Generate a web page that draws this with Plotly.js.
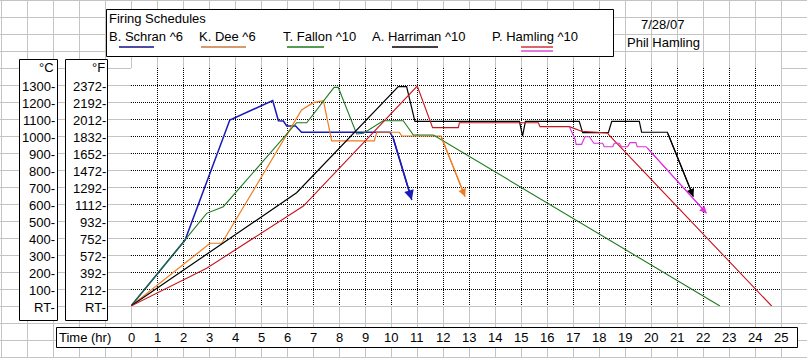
<!DOCTYPE html>
<html><head><meta charset="utf-8">
<script src="https://cdn.plot.ly/plotly-3.0.1.min.js"></script>
<style>html,body{margin:0;padding:0;background:#fff}#chart{width:807px;height:358px}</style>
</head><body><div id="chart"></div>
<script>
// ---------------- data (time in hours, temperature in °C) ----------------
const hourLabels = ['0','1','2','3','4','5','6','7','8','9','10','11','12','13','14','15','16','17','18','19','20','21','22','23','24','25'];
const hourTicks = [0,1,2,3,4,5,6,7,8,9,10,11,12,13,14,15,16,17,18,19,20,21,22,23,24,25];
const celsiusTicks = [0,100,200,300,400,500,600,700,800,900,1000,1100,1200,1300];
const celsiusLabels = ['RT-','100-','200-','300-','400-','500-','600-','700-','800-','900-','1000-','1100-','1200-','1300-'];
const fahrenheitLabels = ['RT-','212-','392-','572-','752-','932-','1112-','1292-','1472-','1652-','1832-','2012-','2192-','2372-'];

const schranT = [0, 2.08, 3.8, 5.45, 5.67, 5.86, 5.99, 6.33, 6.56, 9.96, 10.08, 10.8];
const schranC = [0, 388, 1094, 1208, 1090, 1088, 1059, 1059, 1022, 1022, 990, 624];

const deeT = [0, 3.04, 3.49, 6.56, 7.01, 7.4, 7.72, 9.36, 9.45, 10.32, 10.41, 11.92, 12.85];
const deeC = [0, 369, 369, 1153, 1196, 1208, 971, 971, 1022, 1022, 1000, 1000, 643];

const fallonT = [0, 2.08, 2.91, 3.55, 6.37, 6.76, 7.81, 7.97, 8.68, 8.94, 9.7, 10.47, 10.86, 11.63, 22.65];
const fallonC = [0, 388, 545, 584, 1078, 1078, 1286, 1286, 1012, 1016, 1090, 1090, 1006, 1006, 0];

const harrimanT = [0, 6.37, 10.28, 10.6, 10.92, 14.94, 15.06, 15.17, 17.24, 17.37, 18.36, 18.49, 19.55, 19.64, 20.63, 21.63];
const harrimanC = [0, 666, 1290, 1290, 1086, 1086, 1000, 1086, 1086, 1020, 1020, 1086, 1086, 1022, 1022, 643];

const hamlingT = [0, 2.91, 6.63, 11.01, 11.6, 12.59, 12.63, 15.67, 15.73, 16.86, 17.33, 18.33, 18.38, 24.64];
const hamlingC = [0, 222, 588, 1294, 1049, 1049, 1078, 1078, 1055, 1055, 1028, 1018, 1006, 0];

const hamling2T = [16.86, 17.08, 17.12, 17.33, 17.46, 17.63, 17.8, 18.14, 18.2, 18.53, 18.59, 18.78, 18.87, 19.1, 19.19, 19.42, 19.47, 19.81, 22.14];
const hamling2C = [1055, 981, 951, 951, 996, 996, 957, 957, 937, 937, 957, 957, 937, 937, 961, 961, 937, 937, 545];

const seriesNames = ['B. Schran ^6','K. Dee ^6','T. Fallon ^10','A. Harriman ^10','P. Hamling ^10'];

// ---------------- layout helpers ----------------
const W = 807, H = 358;
const X = px => px / W;
const Y = py => 1 - py / H;
const FONT = 'Liberation Sans, Arial, sans-serif';

const series = [
  {x: schranT, y: schranC, color: '#1a1ab8', width: 1.5, arrow: true},
  {x: deeT, y: deeC, color: '#f07c1e', width: 1.2, arrow: true},
  {x: fallonT, y: fallonC, color: '#1d7a1d', width: 1.1, arrow: false},
  {x: harrimanT, y: harrimanC, color: '#000000', width: 1.2, arrow: true},
  {x: hamlingT, y: hamlingC, color: '#c8141e', width: 1.1, arrow: false},
  {x: hamling2T, y: hamling2C, color: '#e030e0', width: 1.1, arrow: true}
];

const traces = series.map(s => ({
  type: 'scatter', mode: 'lines', x: s.x, y: s.y,
  line: {color: s.color, width: s.width}, hoverinfo: 'skip', showlegend: false,
  xaxis: 'x', yaxis: 'y'
}));

const shapes = [];
// spreadsheet cell grid
for (let px = 1; px <= W; px += 26) {
  shapes.push({type: 'line', xref: 'paper', yref: 'paper', layer: 'below',
    x0: X(px + 0.5), x1: X(px + 0.5), y0: 0, y1: 1, line: {color: '#c4c4c4', width: 1}});
}
for (let py = 0; py <= H; py += 17) {
  shapes.push({type: 'line', xref: 'paper', yref: 'paper', layer: 'below',
    x0: 0, x1: 1, y0: Y(py + 0.5), y1: Y(py + 0.5), line: {color: '#c4c4c4', width: 1}});
}
// boxes
function box(x0, y0, x1, y1) {
  shapes.push({type: 'rect', xref: 'paper', yref: 'paper', layer: 'below',
    x0: X(x0 + 0.5), x1: X(x1 + 0.5), y0: Y(y0 + 0.5), y1: Y(y1 + 0.5),
    fillcolor: '#ffffff', line: {color: '#000000', width: 1}});
}
box(106, 9, 613, 56);   // legend
box(19, 59, 57, 320);   // °C
box(65, 59, 107, 320);  // °F
box(56, 327, 797, 347); // time
// white plot region
shapes.push({type: 'rect', xref: 'x', yref: 'y', layer: 'below', x0: 0, x1: 25, y0: 0, y1: 1400,
  fillcolor: '#ffffff', line: {width: 0}});
// legend sample lines
const legendLines = [
  {x0: 119, x1: 154, y: 47, color: '#10108a'},
  {x0: 201, x1: 246, y: 47, color: '#c8783c'},
  {x0: 287, x1: 324, y: 47, color: '#1d7a1d'},
  {x0: 392, x1: 438, y: 47, color: '#000000'},
  {x0: 521, x1: 553, y: 47, color: '#c8141e'},
  {x0: 521, x1: 553, y: 51, color: '#d030d0'}
];
legendLines.forEach(l => shapes.push({type: 'line', xref: 'paper', yref: 'paper', layer: 'above',
  x0: X(l.x0), x1: X(l.x1), y0: Y(l.y), y1: Y(l.y), line: {color: l.color, width: 1.3}}));

const annotations = [];
const tf = {family: FONT, size: 13, color: '#000'};
function txt(text, px, py, anchor) {
  annotations.push({text: text, xref: 'paper', yref: 'paper', x: X(px), y: Y(py),
    xanchor: anchor || 'left', yanchor: 'middle', showarrow: false, borderpad: 0, font: tf});
}
txt('Firing Schedules', 108, 18);
const legendX = [108, 198, 282, 371, 491];
seriesNames.forEach((n, i) => txt(n, legendX[i], 36));
txt('7/28/07', 662, 25, 'center');
txt('Phil Hamling', 663, 43, 'center');
txt('°C', 55, 67, 'right');
txt('°F', 106, 67, 'right');
txt('Time (hr)', 58, 337);

// temperature tick labels (placed on the y scale)
celsiusTicks.forEach((v, i) => {
  annotations.push({text: celsiusLabels[i], xref: 'paper', yref: 'y', x: X(55.5), y: v,
    xanchor: 'right', yanchor: 'middle', yshift: -1, showarrow: false, borderpad: 0, font: tf});
  annotations.push({text: fahrenheitLabels[i], xref: 'paper', yref: 'y', x: X(106.5), y: v,
    xanchor: 'right', yanchor: 'middle', yshift: -1, showarrow: false, borderpad: 0, font: tf});
});
// time tick labels (placed on the x scale)
hourTicks.forEach((v, i) => {
  annotations.push({text: hourLabels[i], xref: 'x', yref: 'paper', x: v, y: Y(337.5),
    xanchor: 'center', yanchor: 'middle', showarrow: false, borderpad: 0, font: tf});
});

// arrowheads at series ends
series.filter(s => s.arrow).forEach(s => {
  const n = s.x.length;
  annotations.push({xref: 'x', yref: 'y', axref: 'x', ayref: 'y',
    x: s.x[n - 1], y: s.y[n - 1], ax: s.x[n - 2], ay: s.y[n - 2], text: '',
    showarrow: true, arrowhead: 2, arrowsize: 1.3, arrowwidth: s.width, arrowcolor: s.color, standoff: 0});
});

const gridDash = '1px,1px';
const layout = {
  width: W, height: H, margin: {l: 0, r: 0, t: 0, b: 0},
  paper_bgcolor: '#ffffff', plot_bgcolor: 'rgba(0,0,0,0)',
  showlegend: false,
  font: tf,
  xaxis: {domain: [X(131), X(781)], range: [0, 25], dtick: 1, tick0: 0,
    showgrid: true, gridcolor: '#000', griddash: gridDash, gridwidth: 1,
    zeroline: false, showline: false, showticklabels: false, ticks: '', fixedrange: true},
  yaxis: {domain: [Y(306), Y(68)], range: [0, 1400], dtick: 100, tick0: 0,
    showgrid: true, gridcolor: '#000', griddash: gridDash, gridwidth: 1,
    zeroline: false, showline: false, showticklabels: false, ticks: '', fixedrange: true},
  shapes: shapes,
  annotations: annotations
};

Plotly.newPlot('chart', traces, layout, {staticPlot: true, displayModeBar: false});
</script>
</body></html>
